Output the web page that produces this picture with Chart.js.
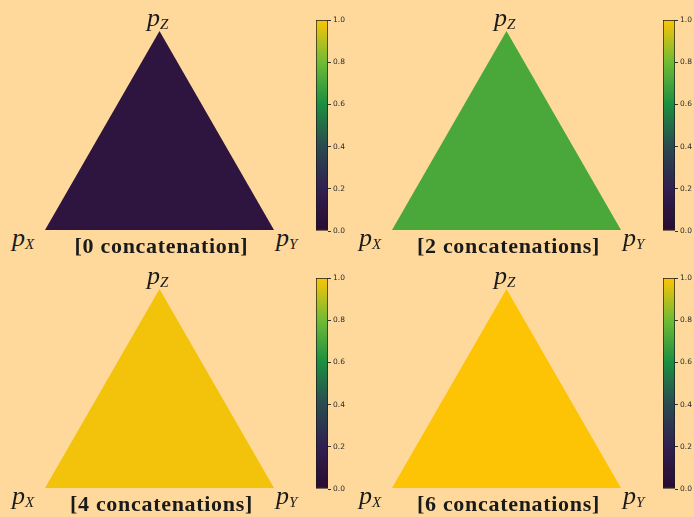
<!DOCTYPE html>
<html>
<head>
<meta charset="utf-8">
<script src="https://cdn.jsdelivr.net/npm/chart.js@4"></script>
<style>
  html, body { margin: 0; padding: 0; }
  body { width: 694px; height: 517px; background: #ffd99c; position: relative; overflow: hidden; }
  .panel { position: absolute; width: 347px; height: 258px; }
  .tri { position: absolute; left: 45px; top: 31px; width: 229px; height: 199px; }
  .cbar { position: absolute; left: 310px; top: 10px; width: 40px; height: 232px; }
  .lab { position: absolute; font-family: "Liberation Serif", serif; font-style: italic; font-size: 26px; color: #1a1a1a; line-height: 1; white-space: nowrap; }
  .lab sub { font-size: 15px; vertical-align: -3px; }
  .cap { position: absolute; left: 0; width: 323px; text-align: center; top: 233px; font-family: "Liberation Serif", serif; font-weight: bold; font-size: 22px; letter-spacing: 0.7px; color: #1a1a1a; white-space: nowrap; }
</style>
</head>
<body>
<script>
// ===============================================
// DATA
// ===============================================
const captions = ['[0 concatenation]', '[2 concatenations]', '[4 concatenations]', '[6 concatenations]'];
const panelValues = [0.1, 0.71, 0.985, 1.0];   // mean value
const cornerNames = ['X', 'Z', 'Y'];
const cornerX = [0, 0.5, 1];                    // simplex corners p_X, p_Z, p_Y
const cornerY = [0, 1, 0];
const cbarTicks = [0, 0.2, 0.4, 0.6, 0.8, 1.0];

// colour map as it appears in the colour bars
const cmapStops = [0, 0.2, 0.4, 0.6, 0.8, 1.0];
const cmapColors = ['#2a0a30', '#302050', '#2a4a50', '#1c8e40', '#70bb35', '#fdc406'];

const panelOrigins = [[0, 0], [347, 0], [0, 258], [347, 258]];

// ===============================================
// HELPERS
// ===============================================
function hexToRgb(h) {
    return [parseInt(h.slice(1, 3), 16), parseInt(h.slice(3, 5), 16), parseInt(h.slice(5, 7), 16)];
}

function cmap(v) {
    for (let i = 1; i < cmapStops.length; i++) {
        if (v <= cmapStops[i]) {
            const t = (v - cmapStops[i - 1]) / (cmapStops[i] - cmapStops[i - 1]);
            const a = hexToRgb(cmapColors[i - 1]), b = hexToRgb(cmapColors[i]);
            const c = a.map((x, k) => Math.round(x + (b[k] - x) * t));
            return `rgb(${c[0]},${c[1]},${c[2]})`;
        }
    }
    return cmapColors[cmapColors.length - 1];
}

function createTriangle(canvas, value) {
    return new Chart(canvas, {
        type: 'scatter',
        data: {
            datasets: [{
                data: cornerX.map((x, i) => ({ x: x, y: cornerY[i] })),
                showLine: true,
                borderWidth: 0,
                pointRadius: 0,
                borderColor: 'transparent',
                backgroundColor: cmap(value),
                fill: 'origin'
            }]
        },
        options: {
            responsive: false,
            animation: false,
            layout: { padding: 0 },
            plugins: { legend: { display: false }, tooltip: { enabled: false } },
            scales: {
                x: { type: 'linear', min: 0, max: 1, display: false },
                y: { type: 'linear', min: 0, max: 1, display: false }
            }
        }
    });
}

function createColorbar(canvas) {
    return new Chart(canvas, {
        type: 'bar',
        data: {
            labels: [''],
            datasets: [{
                data: [[0, 1]],
                backgroundColor: ctx => {
                    const area = ctx.chart.chartArea;
                    if (!area) return cmapColors[0];
                    const g = ctx.chart.ctx.createLinearGradient(0, area.bottom, 0, area.top);
                    cmapStops.forEach((s, i) => g.addColorStop(s, cmapColors[i]));
                    return g;
                },
                borderColor: '#1a1a1a',
                borderWidth: 1,
                borderSkipped: false,
                barPercentage: 1,
                categoryPercentage: 1
            }]
        },
        options: {
            responsive: false,
            animation: false,
            layout: { padding: { left: 6, top: 10, bottom: 11, right: 0 } },
            plugins: { legend: { display: false }, tooltip: { enabled: false } },
            scales: {
                x: { display: false },
                y: {
                    position: 'right',
                    min: 0, max: 1,
                    afterFit: axis => { axis.width = 22; },
                    border: { display: false },
                    grid: { drawOnChartArea: false, drawTicks: true, tickLength: 3, color: '#333' },
                    afterBuildTicks: axis => { axis.ticks = cbarTicks.map(v => ({ value: v })); },
                    ticks: {
                        padding: 2,
                        color: '#2a2a2a',
                        font: { family: 'DejaVu Sans', size: 7.5 },
                        callback: v => v.toFixed(1)
                    }
                }
            }
        }
    });
}

// ===============================================
// BUILD PANELS
// ===============================================
const labelPos = { X: [12, 225], Z: [147, 5], Y: [276, 225] };

panelValues.forEach((val, i) => {
    const p = document.createElement('div');
    p.className = 'panel';
    p.style.left = panelOrigins[i][0] + 'px';
    p.style.top = panelOrigins[i][1] + 'px';
    document.body.appendChild(p);

    const tri = document.createElement('canvas');
    tri.className = 'tri'; tri.width = 229; tri.height = 199;
    p.appendChild(tri);

    const cb = document.createElement('canvas');
    cb.className = 'cbar'; cb.width = 40; cb.height = 232;
    p.appendChild(cb);

    cornerNames.forEach(n => {
        const l = document.createElement('div');
        l.className = 'lab';
        l.innerHTML = `p<sub>${n}</sub>`;
        l.style.left = labelPos[n][0] + 'px';
        l.style.top = labelPos[n][1] + 'px';
        p.appendChild(l);
    });

    const c = document.createElement('div');
    c.className = 'cap';
    c.textContent = captions[i];
    p.appendChild(c);

    createTriangle(tri, val);
    createColorbar(cb);
});
</script>
</body>
</html>
